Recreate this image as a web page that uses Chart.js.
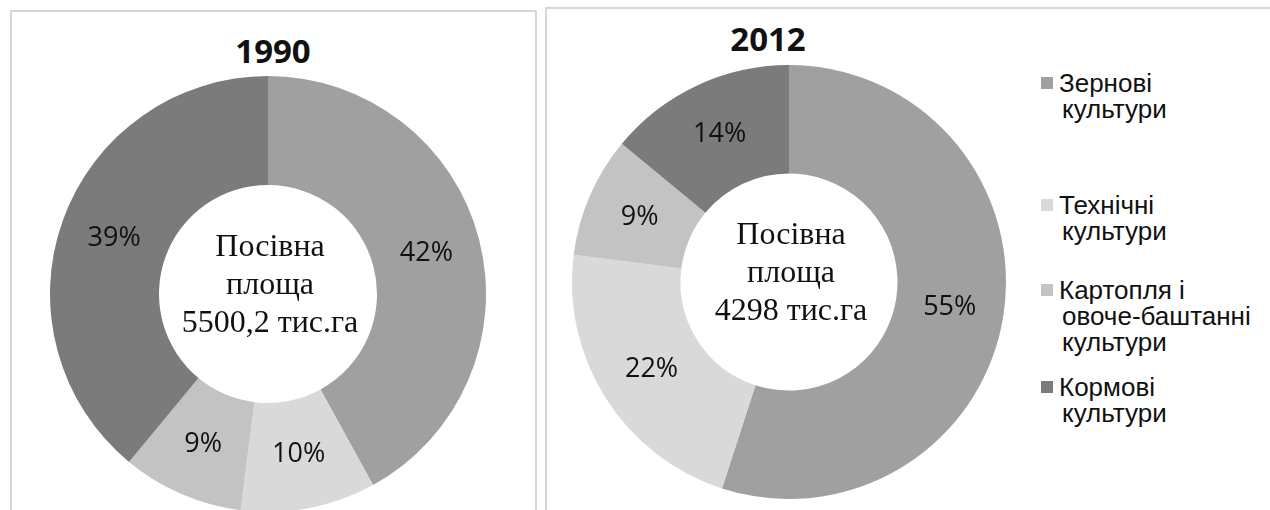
<!DOCTYPE html>
<html>
<head>
<meta charset="utf-8">
<script src="https://cdn.jsdelivr.net/npm/chart.js@4.4.1/dist/chart.umd.min.js"></script>
<style>
  html, body { margin:0; padding:0; background:#fff; width:1270px; height:510px; overflow:hidden; position:relative; }
  .panel { position:absolute; border:2px solid #d6d6d6; box-sizing:border-box; }
  .title { position:absolute; font-family:"Open Sans", sans-serif; font-weight:bold; font-size:33px; color:#111; transform:translate(-50%,-50%); line-height:1; }
  .cv { position:absolute; }
  .leg { position:absolute; font-family:"Liberation Sans", Arial, sans-serif; font-size:26px; color:#111; line-height:26px; }
  .leg .mk { position:absolute; width:12px; height:12px; }
  .leg .ln { position:absolute; white-space:nowrap; transform:translateY(-50%); }
</style>
</head>
<body>
<div class="panel" style="left:10px; top:10px; width:527px; height:530px;"></div>
<div class="panel" style="left:545px; top:7px; width:740px; height:530px;"></div>
<div class="title" id="t1" style="left:273px; top:50px;"></div>
<div class="title" id="t2" style="left:768px; top:38px;"></div>
<canvas id="c1" class="cv" width="436" height="436" style="left:50px; top:76px; width:436px; height:436px;"></canvas>
<canvas id="c2" class="cv" width="434" height="434" style="left:572px; top:65px; width:434px; height:434px;"></canvas>
<div id="legend"></div>
<script>
// ---- data ----
const categories = ["Зернові культури", "Технічні культури", "Картопля і овоче-баштанні культури", "Кормові культури"];
const legendLines = [["Зернові", "культури"], ["Технічні", "культури"], ["Картопля і", "овоче-баштанні", "культури"], ["Кормові", "культури"]];
const years = ["1990", "2012"];
const values1990 = [42, 10, 9, 39];
const values2012 = [55, 22, 9, 14];
const centerText1990 = ["Посівна", "площа", "5500,2 тис.га"];
const centerText2012 = ["Посівна", "площа", "4298 тис.га"];
const colors = ["#a0a0a0", "#d9d9d9", "#c3c3c3", "#7b7b7b"];

// ---- layout ----
const legendTops = [83, 205, 290, 387];
const legendLineH = 26;

document.getElementById('t1').textContent = years[0];
document.getElementById('t2').textContent = years[1];

const labelPlugin = {
  id: 'sliceLabels',
  afterDatasetsDraw(chart) {
    const ctx = chart.ctx;
    const meta = chart.getDatasetMeta(0);
    const data = chart.data.datasets[0].data;
    ctx.save();
    ctx.font = '27px "Open Sans", sans-serif';
    ctx.fillStyle = '#111';
    ctx.textAlign = 'center';
    ctx.textBaseline = 'middle';
    meta.data.forEach((arc, i) => {
      const p = arc.tooltipPosition();
      ctx.fillText(data[i] + '%', p.x, p.y);
    });
    // center text
    const lines = chart.options.plugins.sliceLabels.center;
    const a = meta.data[0];
    ctx.font = '32px "Liberation Serif", "Times New Roman", serif';
    lines.forEach((t, k) => {
      ctx.fillText(t, a.x + 2, a.y - 8 + (k - 1) * 38);
    });
    ctx.restore();
  }
};

function makeChart(id, values, center) {
  return new Chart(document.getElementById(id), {
    type: 'doughnut',
    data: {
      labels: categories,
      datasets: [{ data: values, backgroundColor: colors, borderWidth: 0 }]
    },
    options: {
      responsive: false,
      animation: false,
      cutout: '50%',
      layout: { padding: 0 },
      plugins: {
        legend: { display: false },
        tooltip: { enabled: false },
        sliceLabels: { center: center }
      }
    },
    plugins: [labelPlugin]
  });
}

makeChart('c1', values1990, centerText1990);
makeChart('c2', values2012, centerText2012);

// legend
const leg = document.getElementById('legend');
categories.forEach((c, i) => {
  const item = document.createElement('div');
  item.className = 'leg';
  item.style.left = '0px';
  item.style.top = '0px';
  const mk = document.createElement('div');
  mk.className = 'mk';
  mk.style.background = colors[i];
  mk.style.left = '1041px';
  mk.style.top = (legendTops[i] - 6) + 'px';
  item.appendChild(mk);
  legendLines[i].forEach((t, k) => {
    const ln = document.createElement('div');
    ln.className = 'ln';
    ln.textContent = t;
    ln.style.left = (k === 0 ? 1059 : 1062) + 'px';
    ln.style.top = (legendTops[i] + k * legendLineH) + 'px';
    item.appendChild(ln);
  });
  leg.appendChild(item);
});
</script>
</body>
</html>
